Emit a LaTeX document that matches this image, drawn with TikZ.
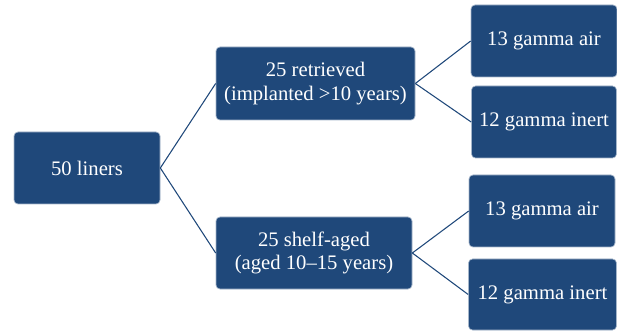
\documentclass[tikz,border=0pt]{standalone}
\usepackage{fontspec}
\setmainfont{Liberation Serif}
\definecolor{boxblue}{RGB}{31,72,122}
\begin{document}
\begin{tikzpicture}[x=0.75pt,y=-0.75pt,
  box/.style={fill=boxblue,draw=boxblue!40!white,line width=0.5pt,rounded corners=3pt,
    text=white,align=center,inner sep=0pt,
    font=\fontsize{15.5}{17.5}\selectfont},
  link/.style={draw=boxblue,line width=0.8pt}]
\useasboundingbox (0,0) rectangle (617,331);
\node[box,minimum width=146*0.75pt,minimum height=72*0.75pt] (root) at (87,168) {50 liners};
\node[box,minimum width=199*0.75pt,minimum height=73*0.75pt] (ret) at (315.5,83.5) {25 retrieved\\(implanted >10 years)};
\node[box,minimum width=196*0.75pt,minimum height=72*0.75pt] (shelf) at (314,253) {25 shelf-aged\\(aged 10–15 years)};
\node[box,minimum width=146*0.75pt,minimum height=72*0.75pt] (a1) at (544,41) {13 gamma air};
\node[box,minimum width=145*0.75pt,minimum height=72*0.75pt] (i1) at (544,122) {12 gamma inert};
\node[box,minimum width=146*0.75pt,minimum height=72*0.75pt] (a2) at (542,211) {13 gamma air};
\node[box,minimum width=148*0.75pt,minimum height=71*0.75pt] (i2) at (542.5,294.5) {12 gamma inert};
\draw[link] (root.east) -- (ret.west);
\draw[link] (root.east) -- (shelf.west);
\draw[link] (ret.east) -- (a1.west);
\draw[link] (ret.east) -- (i1.west);
\draw[link] (shelf.east) -- (a2.west);
\draw[link] (shelf.east) -- (i2.west);
\end{tikzpicture}
\end{document}
